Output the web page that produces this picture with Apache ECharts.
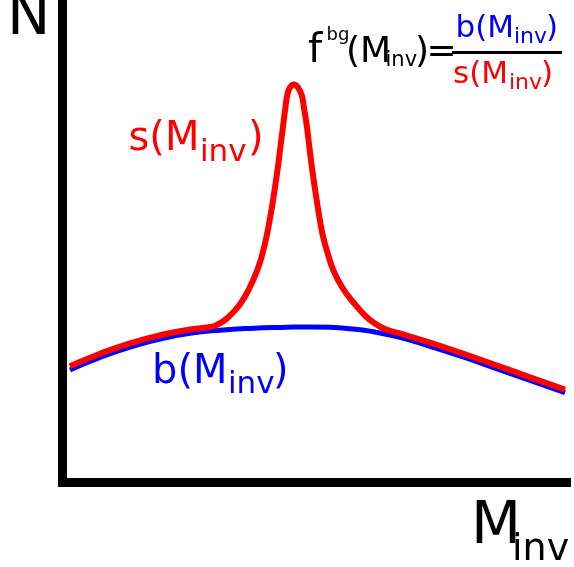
<!DOCTYPE html>
<html>
<head>
<meta charset="utf-8">
<script src="https://cdn.jsdelivr.net/npm/echarts@6/dist/echarts.min.js"></script>
<style>
html, body { margin: 0; padding: 0; background: #ffffff; }
#chart { width: 574px; height: 567px; }
</style>
</head>
<body>
<div id="chart"></div>
<script>
// Background shape b(M_inv): invariant mass and counts
const bgM = [1.47, 7.37, 13.27, 19.17, 25.07, 30.97, 36.87, 44.15, 48.67, 52.61, 56.54, 60.47, 65.78, 72.27, 78.76, 85.45, 91.94, 98.82];
const bgN = [23.32, 25.91, 28.08, 29.74, 30.93, 31.57, 31.94, 32.17, 32.25, 32.17, 31.88, 31.38, 30.22, 28.23, 26.01, 23.57, 21.14, 18.65];

// Signal on top of background, s(M_inv)
const sigM = [1.47, 7.37, 13.27, 19.17, 25.07, 29.60, 30.58, 31.96, 33.33, 35.04, 36.77, 38.31, 39.15, 40.12, 40.75, 41.32, 42.28, 42.83, 43.40, 43.83, 44.21, 44.74, 45.53,
              46.31, 47.04, 47.49, 48.02, 48.57, 49.12, 50.07, 50.62, 51.25, 52.25, 53.25, 54.96, 57.29, 59.69, 61.44, 62.87, 64.41, 65.78, 72.27, 78.76, 85.45, 91.94, 98.82];
const sigN = [24.08, 26.68, 28.85, 30.51, 31.70, 32.33, 32.81, 33.68, 35.03, 37.14, 40.31, 44.04, 46.74, 50.94, 54.40, 57.93, 64.77, 69.33, 74.09, 77.62, 80.31, 81.87, 82.49,
              81.87, 80.31, 77.62, 74.09, 69.33, 64.77, 57.93, 54.40, 50.94, 47.15, 44.04, 40.52, 37.20, 34.40, 32.95, 32.06, 31.44, 31.05, 29.00, 26.70, 24.25, 21.80, 19.27];

const FONT = '"DejaVu Sans", "Noto Sans", sans-serif';
const BLACK = '#000000', RED = '#ff0000', BLUE = '#0000ff';

// text placed by its alphabetic baseline (zrender draws single lines around the middle)
function txt(x, baseline, text, size, color) {
  return {
    type: 'text',
    x: x,
    y: baseline - 0.346 * size,
    z: 10,
    style: {
      text: text,
      font: size + 'px ' + FONT,
      fill: color,
      align: 'left',
      verticalAlign: 'middle'
    }
  };
}

const zip = (a, b) => a.map((v, i) => [v, b[i]]);

const chart = echarts.init(document.getElementById('chart'), null, { renderer: 'canvas' });

chart.setOption({
  animation: false,
  backgroundColor: '#ffffff',
  grid: { left: 62.5, right: 3, top: 0, bottom: 84.5, containLabel: false },
  xAxis: {
    type: 'value', min: 0, max: 100,
    axisLine: { show: true, lineStyle: { color: BLACK, width: 9, cap: 'butt' } },
    axisTick: { show: false }, axisLabel: { show: false }, splitLine: { show: false }
  },
  yAxis: {
    type: 'value', min: 0, max: 100,
    axisLine: { show: true, lineStyle: { color: BLACK, width: 9, cap: 'square' } },
    axisTick: { show: false }, axisLabel: { show: false }, splitLine: { show: false }
  },
  series: [
    {
      name: 'b', type: 'line', data: zip(bgM, bgN), smooth: 0.5,
      symbol: 'none', lineStyle: { color: BLUE, width: 5, join: 'round' }, z: 2
    },
    {
      name: 's', type: 'line', data: zip(sigM, sigN), smooth: 0.5,
      symbol: 'none', lineStyle: { color: RED, width: 6, join: 'round' }, z: 3
    }
  ],
  graphic: [
    // axis titles
    txt(7, 39, 'N', 58, BLACK),
    txt(471, 548, 'M', 58, BLACK),
    txt(512, 563, 'inv', 38, BLACK),

    // curve labels
    txt(128.5, 153.3, 's(M', 40, RED),
    txt(200, 163.3, 'inv', 31, RED),
    txt(248, 153.3, ')', 40, RED),

    txt(152, 386, 'b(M', 40, BLUE),
    txt(228, 396, 'inv', 31, BLUE),
    txt(273, 386, ')', 40, BLUE),

    // f^bg(M_inv) = b(M_inv) / s(M_inv)
    txt(308, 65, 'f', 40, BLACK),
    txt(326.5, 42, 'bg', 18, BLACK),
    txt(346, 65, '(M', 36, BLACK),
    txt(385.5, 68, 'inv', 21, BLACK),
    txt(415, 65, ')', 36, BLACK),
    txt(426.5, 65, '=', 36, BLACK),

    txt(455.5, 40, 'b(M', 31, BLUE),
    txt(514, 45, 'inv', 22, BLUE),
    txt(546, 40, ')', 31, BLUE),

    {
      type: 'rect', z: 10,
      shape: { x: 452, y: 51, width: 110, height: 3 },
      style: { fill: BLACK }
    },

    txt(453, 86, 's(M', 31, RED),
    txt(509, 91, 'inv', 22, RED),
    txt(541, 86, ')', 31, RED)
  ]
});
</script>
</body>
</html>
